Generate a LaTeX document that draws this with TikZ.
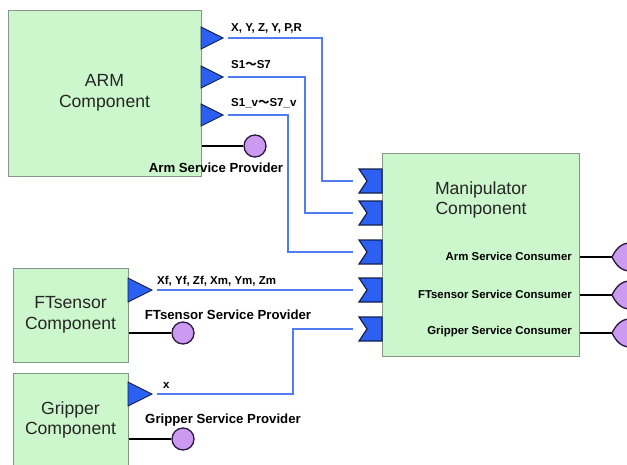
\documentclass[tikz,border=0pt]{standalone}
\usepackage{fontspec}
\setmainfont{Liberation Sans}
\newfontfamily\cjk{Noto Sans CJK SC}
\usetikzlibrary{calc}
\definecolor{compgreen}{HTML}{CCF6CC}
\definecolor{compedge}{HTML}{869686}
\definecolor{portblue}{HTML}{2C60F2}
\definecolor{portedge}{HTML}{12204A}
\definecolor{wireblue}{HTML}{507CF0}
\definecolor{lolly}{HTML}{CC9AF0}
\definecolor{lollyedge}{HTML}{2A1A40}
\tikzset{
    comp/.style={draw=compedge, fill=compgreen, line width=1pt, text=black!85,
        font=\fontsize{17.6}{20.5}\selectfont, align=center, inner sep=0pt},
    comptext/.style={text=black!85, font=\fontsize{17.6}{20.5}\selectfont, align=center, inner sep=0pt},
    outport/.style={fill=portblue, draw=portedge, line width=0.9pt, line join=miter},
    inport/.style={fill=portblue, draw=portedge, line width=1.2pt, line join=miter},
    wire/.style={wireblue, line width=1.5pt},
    stub/.style={black, line width=1.8pt},
    ball/.style={circle, draw=lollyedge, fill=lolly, line width=1.3pt, minimum size=22pt, inner sep=0pt},
    socket/.style={draw=lollyedge, fill=lolly, line width=1.3pt},
    sig/.style={anchor=west, inner sep=0pt, font=\bfseries\fontsize{11.5}{13}\selectfont},
    prov/.style={inner sep=0pt, font=\bfseries\fontsize{13.2}{15}\selectfont},
    cons/.style={anchor=east, inner sep=0pt, font=\bfseries\fontsize{11.4}{13}\selectfont}
}

\begin{document}
\begin{tikzpicture}[x=1pt, y=-1pt]
    \useasboundingbox (0,0) rectangle (627,464);
    \clip (0,0) rectangle (627,464);

    % Components
    \node[comp, minimum width=193pt, minimum height=166pt] (arm) at (104.5,93) {ARM\\Component};
    \node[comp, minimum width=197pt, minimum height=203pt] (manip) at (480.5,254.5) {};
    \node[comptext] (maniptext) at (481,200) {Manipulator\\Component};
    \node[comp, minimum width=115pt, minimum height=94pt] (ftsensor) at (70.5,315) {FTsensor\\Component};
    \node[comp, minimum width=115pt, minimum height=94pt] (gripper) at (70.5,420) {Gripper\\Component};

    % ARM outputs
    \draw[outport] (201,27) -- (223,38) -- (201,49) -- cycle;
    \draw[outport] (201,66) -- (223,77) -- (201,88) -- cycle;
    \draw[outport] (201,104) -- (223,115) -- (201,126) -- cycle;
    \coordinate (armout1) at (228,38);
    \coordinate (armout2) at (228,77);
    \coordinate (armout3) at (228,115);
    \node[sig] (sigpose) at (231,28) {X, Y, Z, Y, P,R};
    \node[sig] (sigjoint) at (231,65) {S1{\cjk ～}S7};
    \node[sig] (sigvel) at (231,103) {S1\_v{\cjk ～}S7\_v};

    % FTsensor and Gripper outputs
    \draw[outport] (128,278) -- (152,290) -- (128,302) -- cycle;
    \draw[outport] (128,382) -- (152,394) -- (128,406) -- cycle;
    \coordinate (ftout) at (157,290);
    \coordinate (gripout) at (157,394);
    \node[sig] (sigft) at (157,281) {Xf, Yf, Zf, Xm, Ym, Zm};
    \node[sig] (siggrip) at (163,385) {x};

    % Manipulator inputs
    \foreach \y/\n in {181/1, 213/2, 252/3, 290/4, 329/5} {
        \draw[inport] (359,\y-12) -- (382,\y-12) -- (382,\y+12) -- (359,\y+12) -- (367,\y) -- cycle;
        \coordinate (manipin\n) at (353,\y);
    }

    % Data wires
    \draw[wire] (armout1) -- (322,38) |- (manipin1);
    \draw[wire] (armout2) -- (305,77) |- (manipin2);
    \draw[wire] (armout3) -- (288,115) |- (manipin3);
    \draw[wire] (ftout) -- (manipin4);
    \draw[wire] (gripout) -- (293,394) |- (manipin5);

    % Service providers
    \node[ball] (armprov) at (255,146) {};
    \node[ball] (ftprov) at (183,333) {};
    \node[ball] (gripprov) at (183,439) {};
    \draw[stub] (arm.east |- armprov) -- (armprov);
    \draw[stub] (ftsensor.east |- ftprov) -- (ftprov);
    \draw[stub] (gripper.east |- gripprov) -- (gripprov);
    \node[prov] (armprovtext) at (216,168) {Arm Service Provider};
    \node[prov] (ftprovtext) at (228,315) {FTsensor Service Provider};
    \node[prov] (gripprovtext) at (223,420) {Gripper Service Provider};

    % Service consumers
    \node[cons] (armcons) at (572,256) {Arm Service Consumer};
    \node[cons] (ftcons) at (572,294) {FTsensor Service Consumer};
    \node[cons] (gripcons) at (572,332) {Gripper Service Consumer};
    \foreach \y/\n in {257/1, 295/2, 333/3} {
        \coordinate (sock\n) at (612,\y);
        \draw[stub] (manip.east |- sock\n) -- (sock\n);
        \draw[socket] (sock\n) .. controls (616,\y-8) and (621,\y-14) .. (630,\y-14)
            -- (640,\y-14) -- (640,\y+14) -- (630,\y+14)
            .. controls (621,\y+14) and (616,\y+8) .. (sock\n) -- cycle;
    }
\end{tikzpicture}
\end{document}
